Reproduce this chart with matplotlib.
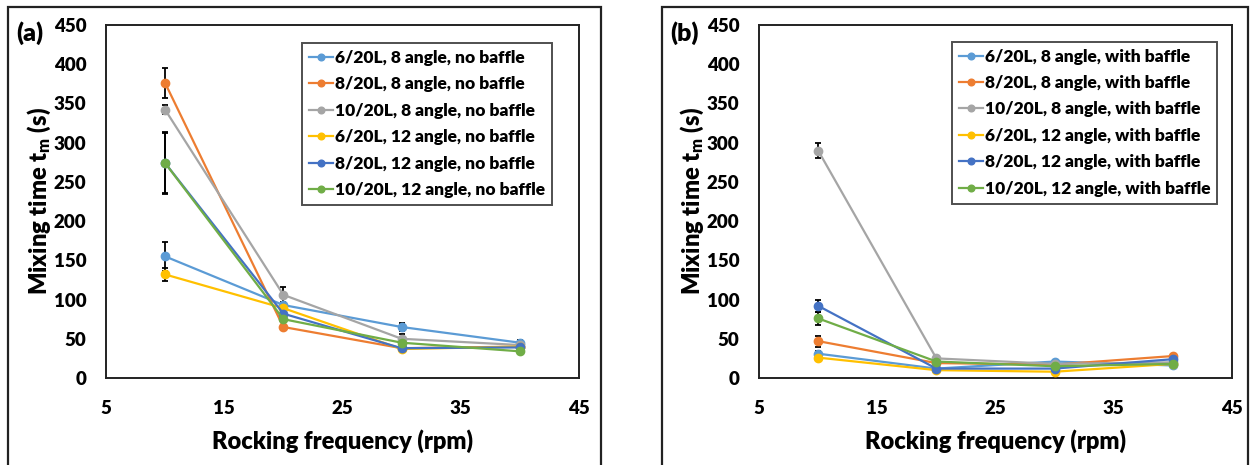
import matplotlib
matplotlib.use("Agg")
import matplotlib.pyplot as plt
from matplotlib.patches import Rectangle

plt.rcParams['font.family'] = ['Lato', 'DejaVu Sans']
plt.rcParams['font.weight'] = 'heavy'
plt.rcParams['mathtext.fontset'] = 'custom'
plt.rcParams['mathtext.rm'] = 'Lato:heavy'
plt.rcParams['mathtext.it'] = 'Lato:heavy'
plt.rcParams['mathtext.bf'] = 'Lato:heavy'

freq = [10, 20, 30, 40]

labels_a = ["6/20L, 8 angle, no baffle", "8/20L, 8 angle, no baffle",
            "10/20L, 8 angle, no baffle", "6/20L, 12 angle, no baffle",
            "8/20L, 12 angle, no baffle", "10/20L, 12 angle, no baffle"]
labels_b = ["6/20L, 8 angle, with baffle", "8/20L, 8 angle, with baffle",
            "10/20L, 8 angle, with baffle", "6/20L, 12 angle, with baffle",
            "8/20L, 12 angle, with baffle", "10/20L, 12 angle, with baffle"]

# panel (a) - no baffle
a_6_8 = [155, 93, 65, 45]
a_8_8 = [376, 65, 38, 40]
a_10_8 = [342, 106, 50, 42]
a_6_12 = [132, 89, 37, 40]
a_8_12 = [274, 82, 38, 39]
a_10_12 = [274, 75, 45, 34]
a_err_6_8 = [19, 4, 5, 3]
a_err_8_8 = [19, 3, 2, 2]
a_err_10_8 = [6, 10, 6, 3]
a_err_6_12 = [8, 3, 2, 2]
a_err_8_12 = [38, 4, 3, 2]
a_err_10_12 = [40, 4, 4, 3]

# panel (b) - with baffle
b_6_8 = [31, 12, 21, 16]
b_8_8 = [47, 19, 17, 28]
b_10_8 = [290, 25, 18, 20]
b_6_12 = [26, 10, 8, 18]
b_8_12 = [92, 12, 12, 24]
b_10_12 = [76, 21, 15, 18]
b_err_6_8 = [4, 2, 2, 2]
b_err_8_8 = [7, 2, 2, 2]
b_err_10_8 = [9, 3, 2, 2]
b_err_6_12 = [3, 2, 3, 2]
b_err_8_12 = [8, 2, 2, 2]
b_err_10_12 = [8, 2, 2, 2]

colors = ['#5B9BD5', '#ED7D31', '#A5A5A5', '#FFC000', '#4472C4', '#70AD47']

x_ticks = [5, 15, 25, 35, 45]
y_ticks = [0, 50, 100, 150, 200, 250, 300, 350, 400, 450]

W, H = 1254, 465
fig = plt.figure(figsize=(W / 100, H / 100), dpi=100)

def draw(ax_left, series, errs, labels, tag, frame_l, frame_r, leg_x, leg_y):
    ax = fig.add_axes([ax_left / W, (H - 378) / H, 473 / W, 353 / H])
    for vals, err, lab, c in zip(series, errs, labels, colors):
        ax.errorbar(freq, vals, yerr=err, color=c, ecolor='black', elinewidth=1.3,
                    capsize=2.5, capthick=1.3, lw=1.6, marker='o', ms=6,
                    label=lab, zorder=3)
    ax.set_xlim(5, 45)
    ax.set_ylim(0, 450)
    ax.set_xticks(x_ticks)
    ax.set_yticks(y_ticks)
    ax.tick_params(axis='both', length=0, labelsize=13.5)
    ax.tick_params(axis='x', pad=16)
    ax.tick_params(axis='y', pad=14)
    for lab in ax.get_xticklabels() + ax.get_yticklabels():
        lab.set_fontweight('heavy')
    for s in ax.spines.values():
        s.set_linewidth(1.4)
        s.set_color('#222222')
    ax.set_xlabel('Rocking frequency (rpm)', fontsize=17, fontweight='heavy', labelpad=9)
    ax.set_ylabel(r'Mixing time t$_\mathrm{m}$ (s)', fontsize=17, fontweight='heavy', labelpad=1)
    handles, labs = ax.get_legend_handles_labels()
    handles = [h[0] for h in handles]
    leg = ax.legend(handles, labs, loc='upper left', bbox_to_anchor=(leg_x, leg_y),
                    borderaxespad=0, prop={'weight': 'heavy', 'size': 12.5},
                    frameon=True, fancybox=False, edgecolor='#222222',
                    handlelength=1.4, handletextpad=0.1, labelspacing=0.6,
                    borderpad=0.4, markerscale=0.8)
    leg.get_frame().set_linewidth(1.4)
    fig.text((frame_l + 9) / W, (H - 33) / H, tag, fontsize=18, fontweight='heavy',
             va='center', ha='left')
    fig.patches.append(Rectangle((frame_l / W, -0.05), (frame_r - frame_l) / W,
                                 (H - 7) / H + 0.05, transform=fig.transFigure,
                                 fill=False, edgecolor='#222222', lw=1.6))
    return ax

draw(106, [a_6_8, a_8_8, a_10_8, a_6_12, a_8_12, a_10_12],
     [a_err_6_8, a_err_8_8, a_err_10_8, a_err_6_12, a_err_8_12, a_err_10_12],
     labels_a, '(a)', 7.7, 600.7, 0.4137, 0.949)
draw(759, [b_6_8, b_8_8, b_10_8, b_6_12, b_8_12, b_10_12],
     [b_err_6_8, b_err_8_8, b_err_10_8, b_err_6_12, b_err_8_12, b_err_10_12],
     labels_b, '(b)', 661.7, 1247.5, 0.408, 0.9527)

fig.savefig('out.png', dpi=100)
